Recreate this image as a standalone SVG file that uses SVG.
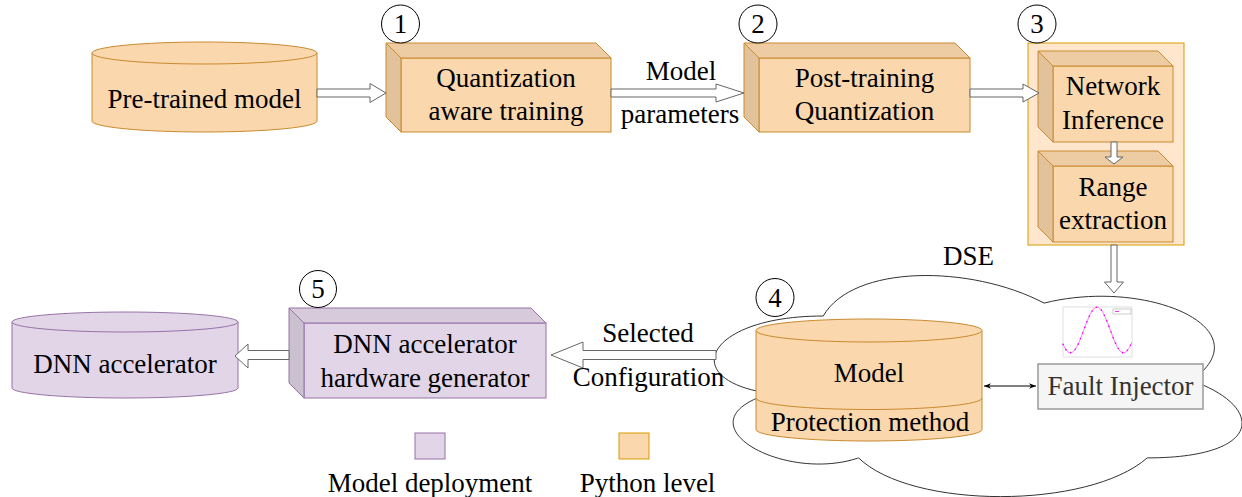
<svg xmlns="http://www.w3.org/2000/svg" width="1242" height="497" viewBox="0 0 1242 497" font-family="'Liberation Serif', 'Tinos', 'DejaVu Serif', serif">
<defs>
<style>
text{font-family:'Liberation Serif','Tinos','DejaVu Serif',serif;font-size:27px;fill:#000;text-anchor:middle}
.of{fill:#fad7ac;stroke:#c98a30;stroke-width:1}
.ot{fill:#eecca3;stroke:#c98a30;stroke-width:1}
.os{fill:#e1c29b;stroke:#c98a30;stroke-width:1}
.pf{fill:#e1d5e7;stroke:#9673a6;stroke-width:1}
.pt{fill:#d6cadb;stroke:#9673a6;stroke-width:1}
.ps{fill:#cbc0d0;stroke:#9673a6;stroke-width:1}
.arr{fill:#fff;stroke:#666;stroke-width:1}
.num{fill:#fff;stroke:#000;stroke-width:1}
</style>
<marker id="ah" viewBox="0 0 10 10" refX="10" refY="5" markerWidth="7" markerHeight="7" orient="auto-start-reverse">
<path d="M0,1 L10,5 L0,9 L3,5 z" fill="#000"/>
</marker>
</defs>
<rect width="1242" height="497" fill="#fff"/>

<!-- DSE cloud -->
<g id="dse-cloud">
<path d="M823.25,316 C705.45,316 676,380.5 770.24,393.4 C676,421.8 782,483.7 858.6,457.9 C911.6,509.5 1088.3,509.5 1147.2,457.9 C1265,457.9 1265,406.3 1191.4,380.5 C1265,328.9 1147.2,277.3 1044.1,303.1 C970.5,264.4 852.7,264.4 823.25,316 Z" fill="#fff" stroke="#333" stroke-width="1"/>
<text x="968.5" y="265">DSE</text>
</g>

<!-- Pre-trained model -->
<g id="pretrained-model">
<path class="of" d="M92,53 V121 A112.5,11 0 0 0 317,121 V53"/>
<ellipse class="of" cx="204.5" cy="53" rx="112.5" ry="11"/>
<text x="204.5" y="108">Pre-trained model</text>
</g>

<!-- Step 1 -->
<g id="qat">
<rect class="of" x="401" y="58" width="210" height="74"/>
<polygon class="ot" points="386,43 596,43 611,58 401,58"/>
<polygon class="os" points="386,43 401,58 401,132 386,117"/>
<text x="506" y="87">Quantization</text>
<text x="506" y="120">aware training</text>
</g>
<g id="num1"><circle class="num" cx="400.5" cy="24" r="19"/><text x="400.5" y="33">1</text></g>

<!-- Step 2 -->
<g id="ptq">
<rect class="of" x="759" y="58" width="211" height="74"/>
<polygon class="ot" points="744,43 955,43 970,58 759,58"/>
<polygon class="os" points="744,43 759,58 759,132 744,117"/>
<text x="864.5" y="87">Post-training</text>
<text x="864.5" y="120">Quantization</text>
</g>
<g id="num2"><circle class="num" cx="758" cy="24" r="19"/><text x="758" y="33">2</text></g>

<!-- Step 3 container -->
<g id="step3">
<rect x="1028" y="43" width="156" height="202" fill="#ffe6cc" stroke="#d79b00" stroke-width="1"/>
</g>
<g id="network-inference">
<rect class="of" x="1053" y="66" width="120" height="76"/>
<polygon class="ot" points="1038,51 1158,51 1173,66 1053,66"/>
<polygon class="os" points="1038,51 1053,66 1053,142 1038,127"/>
<text x="1113" y="95">Network</text>
<text x="1113" y="129">Inference</text>
</g>
<g id="range-extraction">
<rect class="of" x="1053" y="166" width="120" height="76"/>
<polygon class="ot" points="1038,151 1158,151 1173,166 1053,166"/>
<polygon class="os" points="1038,151 1053,166 1053,242 1038,227"/>
<text x="1113" y="196">Range</text>
<text x="1113" y="229">extraction</text>
</g>
<g id="num3"><circle class="num" cx="1037" cy="24" r="19"/><text x="1037" y="33">3</text></g>

<!-- Step 4 model cylinder -->
<g id="model-protection">
<path class="of" d="M756,330.5 V429.5 A113,11.5 0 0 0 982,429.5 V330.5"/>
<path d="M756,398 A113,11.5 0 0 0 982,398" fill="none" stroke="#c98a30" stroke-width="1"/>
<ellipse class="of" cx="869" cy="330.5" rx="113" ry="11.5"/>
<text x="869" y="382">Model</text>
<text x="870" y="431">Protection method</text>
</g>
<g id="num4"><circle class="num" cx="775" cy="297.5" r="19"/><text x="775" y="306.5">4</text></g>

<!-- Fault injector -->
<g id="fault-injector">
<rect x="1038" y="364" width="165" height="45" fill="#f5f5f5" stroke="#999" stroke-width="1.5"/>
<text x="1120.5" y="395" style="fill:#333">Fault Injector</text>
</g>
<g id="fault-chart">
<rect x="1063" y="307" width="69" height="50" fill="#fff" stroke="#d8d8d8" stroke-width="0.8"/>
<rect x="1113" y="309" width="18" height="5" fill="#fff" stroke="#aaa" stroke-width="0.6"/>
<line x1="1115" y1="311.5" x2="1119" y2="311.5" stroke="#ff00ff" stroke-width="0.8"/>
<polyline fill="none" stroke="#ff66ff" stroke-width="0.9" points="1063,344.4 1066,349.9 1069,352.7 1072,352.6 1075,349.8 1078,344.5 1081,337.4 1084,329.3 1087,321.4 1090,314.5 1093,309.5 1096,307.2 1099,307.6 1102,310.9 1105,316.6 1108,323.9 1111,332 1114,339.9 1117,346.5 1120,351 1123,353 1126,352 1129,348.3 1132,342.3"/>
<polyline fill="none" stroke="#e000e0" stroke-width="1.6" stroke-linecap="round" stroke-dasharray="0 6" points="1063,344.4 1066,349.9 1069,352.7 1072,352.6 1075,349.8 1078,344.5 1081,337.4 1084,329.3 1087,321.4 1090,314.5 1093,309.5 1096,307.2 1099,307.6 1102,310.9 1105,316.6 1108,323.9 1111,332 1114,339.9 1117,346.5 1120,351 1123,353 1126,352 1129,348.3 1132,342.3"/>
</g>

<!-- Step 5 -->
<g id="dnn-accelerator">
<path class="pf" d="M12,322 V388 A113,10 0 0 0 238,388 V322"/>
<ellipse class="pf" cx="125" cy="322" rx="113" ry="10"/>
<text x="125" y="373">DNN accelerator</text>
</g>
<g id="hw-generator">
<rect class="pf" x="304" y="323" width="242" height="75"/>
<polygon class="pt" points="289,308 531,308 546,323 304,323"/>
<polygon class="ps" points="289,308 304,323 304,398 289,383"/>
<text x="425" y="353">DNN accelerator</text>
<text x="425" y="387">hardware generator</text>
</g>
<g id="num5"><circle class="num" cx="318" cy="289" r="18.5"/><text x="318" y="298">5</text></g>

<!-- Connectors -->
<g id="connectors">
<polygon class="arr" points="317,89 370,89 370,83.5 386,93 370,102.5 370,97 317,97"/>
<polygon class="arr" points="611,89 716,89 716,84 744,93 716,102 716,97 611,97"/>
<polygon class="arr" points="970,89 1023,89 1023,84 1039,93 1023,102 1023,97 970,97"/>
<polygon class="arr" points="1111,142 1117,142 1117,157 1123,157 1114,164 1105,157 1111,157"/>
<polygon class="arr" points="1111,245 1117,245 1117,282 1123.5,282 1114,293 1104.5,282 1111,282"/>
<polygon class="arr" points="716,350.5 583,350.5 583,342 551,355 583,368 583,359.5 716,359.5"/>
<polygon class="arr" points="289,350.5 248,350.5 248,344 235,356 248,368 248,359.5 289,359.5"/>
<line x1="984" y1="386" x2="1036" y2="386" stroke="#000" stroke-width="1" marker-start="url(#ah)" marker-end="url(#ah)"/>
<text x="681" y="80">Model</text>
<text x="680" y="123">parameters</text>
<text x="648" y="342">Selected</text>
<text x="648.5" y="386">Configuration</text>
</g>

<!-- Legend -->
<g id="legend">
<rect x="415" y="433" width="30" height="26" fill="#e1d5e7" stroke="#9673a6" stroke-width="1"/>
<rect x="619" y="433" width="30" height="26" fill="#fad7ac" stroke="#d79b00" stroke-width="1"/>
<text x="430" y="492">Model deployment</text>
<text x="647.5" y="492">Python level</text>
</g>
</svg>
